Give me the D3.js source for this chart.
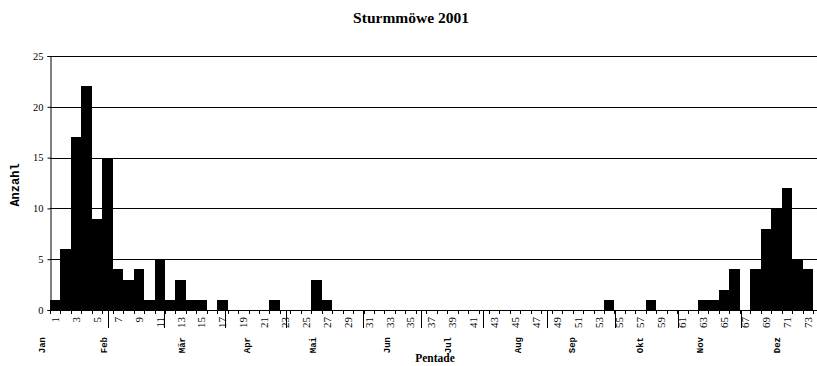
<!DOCTYPE html>
<html>
<head>
<meta charset="utf-8">
<script src="https://cdn.jsdelivr.net/npm/d3@7"></script>
<style>
  body { margin: 0; background: #fff; }
  svg { display: block; }
</style>
</head>
<body>
<svg id="chart" width="817" height="366"></svg>
<script>
// Pentade numbers (1..73) and counts per pentade
const pentades = d3.range(1, 74);
const counts = [
  1, 6, 17, 22, 9, 15, 4, 3, 4, 1,
  5, 1, 3, 1, 1, 0, 1, 0, 0, 0,
  0, 1, 0, 0, 0, 3, 1, 0, 0, 0,
  0, 0, 0, 0, 0, 0, 0, 0, 0, 0,
  0, 0, 0, 0, 0, 0, 0, 0, 0, 0,
  0, 0, 0, 1, 0, 0, 0, 1, 0, 0,
  0, 0, 1, 1, 2, 4, 0, 4, 8, 10,
  12, 5, 4
];
const yTicks = [0, 5, 10, 15, 20, 25];
const xTickLabels = pentades.filter(p => p % 2 === 1);

// Month names, where they sit and where the month dividers fall (in pentade units)
const months = ["Jan", "Feb", "Mär", "Apr", "Mai", "Jun", "Jul", "Aug", "Sep", "Okt", "Nov", "Dez"];
const monthLabelPos = [-0.77, 5.17, 12.63, 18.85, 25.17, 32.25, 38.09, 44.78, 49.95, 56.46, 62.2, 69.57];
const monthBreaks = [5.58, 10.95, 16.75, 22.6, 29.9, 35.47, 41.47, 47.55, 54.05, 60.1, 66.1];

const plotLeft = 50, plotRight = 813, plotTop = 56, plotBottom = 310, gridRight = 817;
const serif = "'Liberation Serif', 'Times New Roman', serif";
const mono = "'Liberation Mono', 'Courier New', monospace";

const svg = d3.select("#chart");

const x = d3.scaleBand().domain(pentades).range([plotLeft, plotRight]).padding(0);
const xc = d3.scaleLinear().domain([0, 73]).range([plotLeft, plotRight]);
const y = d3.scaleLinear().domain([0, 25]).range([plotBottom, plotTop]);

// Title
svg.append("text")
  .attr("x", 411).attr("y", 23)
  .attr("text-anchor", "middle")
  .attr("font-family", serif).attr("font-weight", "bold").attr("font-size", 15.5)
  .text("Sturmmöwe 2001");

// Horizontal gridlines
svg.append("g").selectAll("line")
  .data(yTicks.filter(v => v > 0))
  .join("line")
  .attr("x1", plotLeft).attr("x2", gridRight)
  .attr("y1", d => Math.round(y(d)) + 0.5).attr("y2", d => Math.round(y(d)) + 0.5)
  .attr("stroke", "#000").attr("stroke-width", 1);

// Bars
svg.append("g").selectAll("rect")
  .data(pentades.map((p, i) => ({ p, v: counts[i] })).filter(d => d.v > 0))
  .join("rect")
  .attr("x", d => x(d.p))
  .attr("width", x.bandwidth())
  .attr("y", d => y(d.v))
  .attr("height", d => y(0) - y(d.v))
  .attr("fill", "#000")
  .attr("shape-rendering", "crispEdges");

// Y axis
const yAxis = svg.append("g")
  .attr("transform", `translate(${plotLeft + 0.5},0)`)
  .call(d3.axisLeft(y).tickValues(yTicks).tickSize(3).tickPadding(4).tickFormat(d3.format("d")));
yAxis.select(".domain").attr("stroke", "#000");
yAxis.selectAll(".tick line").attr("stroke", "#000");
yAxis.selectAll("text")
  .attr("font-family", serif).attr("font-size", 10.5).attr("fill", "#000");

// X axis line and per-pentade ticks
const xg = svg.append("g");
xg.append("line")
  .attr("x1", plotLeft - 2).attr("x2", gridRight)
  .attr("y1", plotBottom + 0.5).attr("y2", plotBottom + 0.5)
  .attr("stroke", "#000");
xg.selectAll("line.tk")
  .data(d3.range(0, 74))
  .join("line").attr("class", "tk")
  .attr("x1", d => Math.round(xc(d)) + 0.5).attr("x2", d => Math.round(xc(d)) + 0.5)
  .attr("y1", plotBottom).attr("y2", plotBottom + 4)
  .attr("stroke", "#000");

// Month dividers
xg.selectAll("line.mb")
  .data(monthBreaks)
  .join("line").attr("class", "mb")
  .attr("x1", d => Math.round(xc(d)) + 0.5).attr("x2", d => Math.round(xc(d)) + 0.5)
  .attr("y1", plotBottom).attr("y2", plotBottom + 18)
  .attr("stroke", "#000");

// Vertical labels live in a frame turned a quarter turn counter-clockwise:
// screen point (sx, sy) is local point (-sy, sx); text runs bottom-to-top.
const vertical = svg.append("g").attr("transform", "rotate(-90)");

vertical.selectAll("text.pn")
  .data(xTickLabels)
  .join("text").attr("class", "pn")
  .attr("x", -317)
  .attr("y", d => x(d) + x.bandwidth() / 2)
  .attr("text-anchor", "end")
  .attr("dy", "0.35em")
  .attr("font-family", serif).attr("font-size", 11)
  .text(d => d);

vertical.selectAll("text.mn")
  .data(months)
  .join("text").attr("class", "mn")
  .attr("x", -337)
  .attr("y", (d, i) => xc(monthLabelPos[i]))
  .attr("text-anchor", "end")
  .attr("dy", "0.35em")
  .attr("font-family", mono).attr("font-weight", "bold").attr("font-size", 9)
  .text(d => d);

vertical.append("text")
  .attr("x", -185).attr("y", 15)
  .attr("text-anchor", "middle")
  .attr("dy", "0.35em")
  .attr("font-family", mono).attr("font-weight", "bold").attr("font-size", 12)
  .text("Anzahl");

// X axis title
svg.append("text")
  .attr("x", 435).attr("y", 362)
  .attr("text-anchor", "middle")
  .attr("font-family", serif).attr("font-weight", "bold").attr("font-size", 11.5)
  .text("Pentade");
</script>
</body>
</html>
